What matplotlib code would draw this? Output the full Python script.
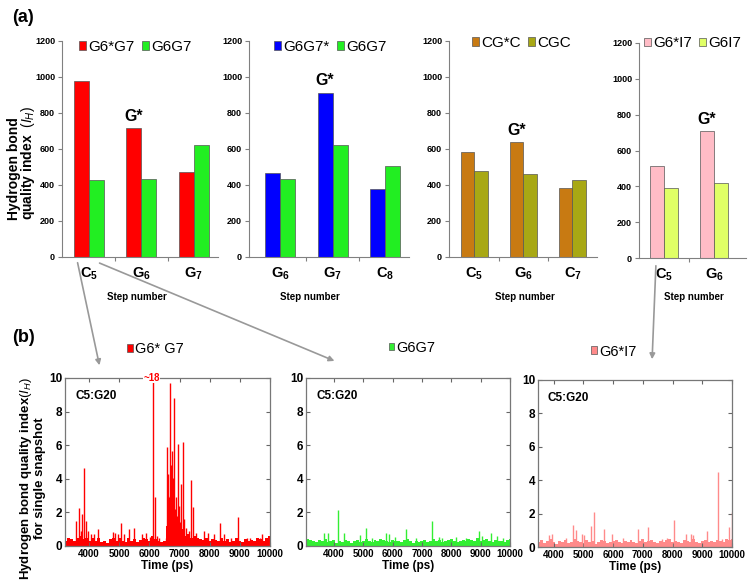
import numpy as np
import matplotlib
matplotlib.use('Agg')
import matplotlib.pyplot as plt
from matplotlib.patches import Rectangle, FancyArrowPatch

plt.rcParams['font.family'] = ['Liberation Sans', 'DejaVu Sans']
plt.rcParams['mathtext.fontset'] = 'custom'
plt.rcParams['mathtext.rm'] = 'Liberation Sans'
plt.rcParams['mathtext.it'] = 'Liberation Sans:italic'
plt.rcParams['mathtext.bf'] = 'Liberation Sans:bold'

# ---- (a) hydrogen bond quality index per step ----
steps_1 = ['C$_\\mathbf{5}$', 'G$_\\mathbf{6}$', 'G$_\\mathbf{7}$']
g6s_g7 = [976, 716, 471]
g6g7_1 = [426, 434, 622]

steps_2 = ['G$_\\mathbf{6}$', 'G$_\\mathbf{7}$', 'C$_\\mathbf{8}$']
g6g7s = [467, 912, 380]
g6g7_2 = [434, 622, 506]

steps_3 = ['C$_\\mathbf{5}$', 'G$_\\mathbf{6}$', 'C$_\\mathbf{7}$']
cgsc = [585, 637, 386]
cgc = [478, 460, 430]

steps_4 = ['C$_\\mathbf{5}$', 'G$_\\mathbf{6}$']
g6si7 = [512, 707]
g6i7 = [390, 419]

# ---- (b) single snapshot index, C5:G20 ----
# background level, one value every 100 ps
b1_start = 3200
b1_base = [0.3, 0.5, 0.4, 0.3, 0.5, 0.6, 0.4, 0.5, 0.3, 0.45, 0.3, 0.5, 0.25, 0.3,
           0.2, 0.4, 0.5, 0.3, 0.45, 0.3, 0.25, 0.45, 0.3, 0.4, 0.25, 0.35, 0.5, 0.4,
           0.3, 0.6, 0.4, 0.3, 0.25, 0.3, 1.2, 2.6, 2.2, 1.5, 1.1, 1.0, 0.6, 0.7,
           0.5, 0.6, 0.45, 0.4, 0.35, 0.5, 0.3, 0.4, 0.35, 0.3, 0.5, 0.3, 0.4, 0.25,
           0.3, 0.45, 0.3, 0.25, 0.4, 0.3, 0.35, 0.3, 0.45, 0.4, 0.3, 0.5, 0.6]
b1_spike_t = [3575, 3660, 3734, 3766, 3820, 3894, 3947, 4053, 4160, 4300,
              4800, 4870, 4960, 5064, 5170, 5330, 5490, 5755, 5893, 6020,
              6128, 6200, 6240, 6330, 6540, 6574, 6610, 6628, 6660, 6691,
              6710, 6734, 6766, 6790, 6819, 6850, 6872, 6900, 6936, 6979,
              7020, 7064, 7117, 7160, 7230, 7300, 7383, 7457, 7560, 7809,
              7950, 8150, 8340, 8480, 8700, 8926, 9250, 9330, 9580, 9680, 9745]
b1_spike_v = [1.5, 2.25, 0.9, 1.9, 4.67, 1.5, 0.9, 0.7, 0.7, 1.0,
              0.83, 0.8, 0.7, 1.35, 0.7, 1.0, 1.1, 0.7, 0.8, 0.55,
              18, 2.9, 0.6, 0.5, 0.5, 5.9, 3.0, 4.27, 2.9, 9.7,
              4.8, 5.67, 4.07, 3.0, 8.8, 2.2, 2.9, 1.8, 6.1, 2.4,
              1.4, 3.7, 6.2, 1.6, 1.1, 0.9, 3.9, 2.3, 0.8, 0.9,
              0.8, 0.7, 1.35, 0.7, 0.5, 1.75, 0.5, 0.5, 0.45, 0.5, 0.7]

b2_start = 3100
b2_base = [0.4, 0.35, 0.3, 0.25, 0.35, 0.3, 0.4, 0.25, 0.3, 0.35, 0.2, 0.3, 0.25, 0.35,
           0.3, 0.2, 0.3, 0.35, 0.25, 0.3, 0.4, 0.3, 0.25, 0.35, 0.3, 0.4, 0.35, 0.3,
           0.25, 0.35, 0.3, 0.3, 0.25, 0.35, 0.4, 0.3, 0.2, 0.3, 0.25, 0.3, 0.35, 0.25,
           0.3, 0.4, 0.3, 0.35, 0.25, 0.3, 0.35, 0.4, 0.3, 0.25, 0.3, 0.35, 0.3, 0.4,
           0.35, 0.3, 0.45, 0.3, 0.35, 0.4, 0.3, 0.25, 0.35, 0.3, 0.3, 0.25, 0.35, 0.4]
b2_spike_t = [3661, 3808, 4124, 4339, 4904, 5107, 5311, 5785, 5876, 6068,
              6463, 6802, 7345, 7571, 7700, 8158, 8500, 8949, 9060, 9367, 9570, 9760]
b2_spike_v = [0.75, 0.75, 2.13, 0.8, 0.65, 1.05, 0.5, 0.75, 0.7, 0.55,
              1.0, 0.5, 1.5, 0.55, 0.5, 0.55, 0.5, 0.9, 0.6, 0.8, 0.6, 0.45]

b3_start = 3500
b3_base = [0.3, 0.4, 0.25, 0.35, 0.45, 0.3, 0.2, 0.35, 0.3, 0.4, 0.25, 0.3, 0.45, 0.35,
           0.3, 0.25, 0.4, 0.3, 0.35, 0.2, 0.3, 0.4, 0.35, 0.25, 0.3, 0.35, 0.4, 0.3,
           0.25, 0.35, 0.3, 0.4, 0.3, 0.25, 0.35, 0.45, 0.3, 0.35, 0.4, 0.3, 0.25, 0.35,
           0.3, 0.4, 0.45, 0.3, 0.35, 0.3, 0.25, 0.4, 0.35, 0.3, 0.45, 0.3, 0.25, 0.35,
           0.4, 0.3, 0.35, 0.3, 0.4, 0.35, 0.3, 0.45, 0.4, 0.5]
b3_spike_t = [3830, 3943, 4396, 4657, 4736, 4940, 5020, 5246, 5370, 5700,
              5962, 6330, 6831, 7182, 7630, 7820, 8054, 8450, 8620, 8700,
              9153, 9527, 9650, 9889, 9990]
b3_spike_v = [0.7, 0.75, 0.55, 1.3, 1.0, 0.8, 0.7, 1.25, 2.1, 1.05,
              0.8, 0.55, 1.1, 1.2, 0.5, 0.55, 1.6, 0.8, 0.8, 0.7,
              0.95, 4.5, 0.45, 1.2, 2.1]

W, H = 750, 587
fig = plt.figure(figsize=(W / 100, H / 100), dpi=100)


def px_axes(l, t, r, b):
    return fig.add_axes([l / W, 1 - b / H, (r - l) / W, (b - t) / H])


def fig_xy(x, y):
    return x / W, 1 - y / H


gray = '#808080'
bw = 0.285


def bar_panel(rect, xlim, labels, v1, v2, c1, c2, names, star, leg_xy, step_x):
    ax = px_axes(*rect)
    x = np.arange(len(labels))
    ax.bar(x - bw / 2, v1, bw, color=c1, edgecolor='#555555', linewidth=0.5)
    ax.bar(x + bw / 2, v2, bw, color=c2, edgecolor='#555555', linewidth=0.5)
    ax.text(star - bw / 2, v1[star] + 25, 'G*', ha='center', va='bottom',
            fontsize=11.5, fontweight='bold')
    ax.set_xlim(*xlim)
    ax.set_ylim(0, 1200)
    ax.set_yticks(range(0, 1201, 200))
    ax.set_xticks(x[:-1] + 0.5)
    ax.set_xticklabels([])
    ax.set_xticks(x, minor=True)
    ax.set_xticklabels(labels, minor=True, fontsize=10.5, fontweight='bold')
    ax.tick_params(axis='x', which='minor', length=0, pad=6)
    ax.tick_params(axis='x', which='major', length=3, color=gray)
    ax.tick_params(axis='y', length=3, color=gray, labelsize=6.5, pad=2)
    for lab in ax.get_yticklabels():
        lab.set_fontweight('bold')
    for s in ['top', 'right']:
        ax.spines[s].set_visible(False)
    for s in ['left', 'bottom']:
        ax.spines[s].set_color(gray)
    handles = [Rectangle((0, 0), 1, 1, fc=c1, ec='#555555', lw=0.5),
               Rectangle((0, 0), 1, 1, fc=c2, ec='#555555', lw=0.5)]
    ax.legend(handles, names, loc='center', bbox_to_anchor=leg_xy, ncol=2,
              frameon=False, fontsize=11, handlelength=0.45, handleheight=0.5,
              handletextpad=0.15, columnspacing=0.5, borderpad=0, borderaxespad=0)
    fig.text(*fig_xy(step_x, 297), 'Step number', ha='center', va='center',
             fontsize=7, fontweight='bold')
    return ax


bar_panel((62, 41, 218, 257), (-0.51, 2.46), steps_1, g6s_g7, g6g7_1,
          '#ff0000', '#22ee22', ['G6*G7', 'G6G7'], 1, (0.47, 0.972), 137)
bar_panel((249, 41, 409, 257), (-0.59, 2.45), steps_2, g6g7s, g6g7_2,
          '#0000ff', '#22ee22', ['G6G7*', 'G6G7'], 1, (0.51, 0.972), 310)
bar_panel((449, 41, 597, 257), (-0.52, 2.5), steps_3, cgsc, cgc,
          '#c87a12', '#a8a814', ['CG*C', 'CGC'], 1, (0.49, 0.99), 525)
bar_panel((639, 43, 746, 258), (-0.5, 1.64), steps_4, g6si7, g6i7,
          '#ffbcc6', '#e0ff66', ['G6*I7', 'G6I7'], 1, (0.5, 0.998), 694)


def snap_panel(rect, xlim, start, base, sp_t, sp_v, color, name, leg_xy):
    ax = px_axes(*rect)
    t = start + 100 * np.arange(len(base))
    ax.fill_between(t, base, step='mid', color=color, linewidth=0)
    ax.vlines(sp_t, 0, sp_v, colors=color, linewidth=1.0)
    ax.set_xlim(*xlim)
    ax.set_ylim(0, 10)
    ax.set_yticks(range(0, 11, 2))
    ax.set_xticks(range(4000, 10001, 1000))
    ax.tick_params(direction='in', top=True, right=True, length=3, color='#666666')
    ax.tick_params(axis='x', labelsize=7, pad=2)
    ax.tick_params(axis='y', labelsize=8.5, pad=2)
    for lab in ax.get_xticklabels() + ax.get_yticklabels():
        lab.set_fontweight('bold')
    for s in ax.spines.values():
        s.set_color('#777777')
        s.set_linewidth(0.9)
    ax.set_xlabel('Time (ps)', fontsize=8.5, fontweight='bold', labelpad=1)
    ax.text(0.05, 0.89, 'C5:G20', transform=ax.transAxes, fontsize=8.5,
            fontweight='bold', va='center')
    handle = Rectangle((0, 0), 1, 1, fc=color, ec='#555555', lw=0.5)
    ax.legend([handle], [name], loc='center', bbox_to_anchor=leg_xy,
              frameon=False, fontsize=10.5, handlelength=0.4, handleheight=0.45,
              handletextpad=0.15, borderpad=0, borderaxespad=0)
    return ax


axb1 = snap_panel((65, 378, 270, 546), (3200, 10000), b1_start, b1_base,
                  b1_spike_t, b1_spike_v, '#ff0000', 'G6* G7', (0.44, 1.17))
axb1.text(6080, 10, '~18', color='red', fontsize=7, fontweight='bold',
          ha='center', va='center', clip_on=False, zorder=5,
          bbox=dict(fc='white', ec='none', pad=0.3))
snap_panel((306, 378, 510, 546), (3050, 10000), b2_start, b2_base,
           b2_spike_t, b2_spike_v, '#33ee33', 'G6G7', (0.52, 1.18))
snap_panel((538, 380, 732, 547), (3470, 10000), b3_start, b3_base,
           b3_spike_t, b3_spike_v, '#ff8a8a', 'G6*I7', (0.39, 1.17))

# axis titles and panel letters
fig.text(*fig_xy(22, 163), 'Hydrogen bond\nquality index  $(I_H)$', rotation=90,
         ha='center', va='center', fontsize=10, fontweight='bold',
         linespacing=0.9, multialignment='left')
fig.text(*fig_xy(32, 478), 'Hydrogen bond quality index$(I_H)$\nfor single snapshot',
         rotation=90, ha='center', va='center', fontsize=9.5, fontweight='bold',
         linespacing=0.95, multialignment='center')
fig.text(*fig_xy(12, 18), '(a)', fontsize=13, fontweight='bold', va='center')
fig.text(*fig_xy(12, 337), '(b)', fontsize=13, fontweight='bold', va='center')

# connecting arrows
for p0, p1 in [((77, 260), (100, 368)), ((97, 262), (337, 362)), ((656, 263), (652, 362))]:
    fig.add_artist(FancyArrowPatch(fig_xy(*p0), fig_xy(*p1), transform=fig.transFigure,
                                   arrowstyle='-|>', mutation_scale=8,
                                   color='#999999', linewidth=1.2))

fig.savefig('out.png', dpi=100)
